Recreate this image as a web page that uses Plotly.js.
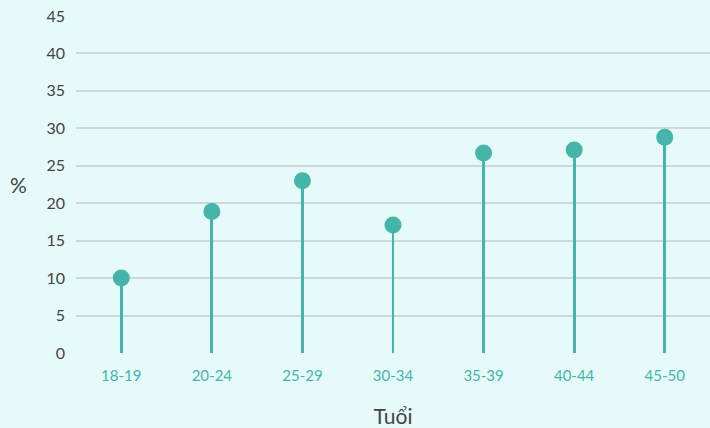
<!DOCTYPE html>
<html>
<head>
<meta charset="utf-8">
<script src="https://cdn.plot.ly/plotly-3.0.1.min.js"></script>
<style>
html,body{margin:0;padding:0;background:#e6fafa;}
#chart{width:710px;height:428px;}
</style>
</head>
<body>
<div id="chart"></div>
<script>
const categories = ["18-19","20-24","25-29","30-34","35-39","40-44","45-50"];
const values = [10, 18.9, 23, 17.1, 26.7, 27.1, 28.8];
const yTicks = [0,5,10,15,20,25,30,35,40,45];

const teal = "#45b5aa";

const stems = {
  type: "bar",
  x: categories,
  y: values,
  width: 0.033,
  marker: {color: teal, line: {width: 0}},
  hoverinfo: "skip",
  showlegend: false
};
const dots = {
  type: "scatter",
  mode: "markers",
  x: categories,
  y: values,
  marker: {color: teal, size: 17},
  showlegend: false
};

const layout = {
  width: 710,
  height: 428,
  margin: {l: 76, r: 0, t: 16, b: 75},
  paper_bgcolor: "#e6fafa",
  plot_bgcolor: "#e6fafa",
  font: {family: "Lato, 'Open Sans', sans-serif", color: "#444"},
  xaxis: {
    type: "category",
    showgrid: false,
    zeroline: false,
    showline: false,
    ticks: "",
    ticklabelstandoff: 12,
    tickfont: {size: 15, color: teal},
    title: {text: "Tuổi", font: {size: 21, color: "#444"}, standoff: 28}
  },
  yaxis: {
    range: [0, 45],
    tickvals: yTicks,
    showgrid: true,
    gridcolor: "#cdd8d8",
    gridwidth: 2,
    zeroline: false,
    showline: false,
    ticks: "",
    ticklabelstandoff: 10,
    tickfont: {size: 16, color: "#444"},
    title: {text: ""}
  },
  annotations: [{
    text: "%",
    xref: "paper", yref: "paper",
    x: -0.09, y: 0.5,
    xanchor: "center", yanchor: "middle",
    showarrow: false,
    font: {size: 21, color: "#444"}
  }],
  bargap: 0
};

Plotly.newPlot("chart", [stems, dots], layout, {displayModeBar: false});
</script>
</body>
</html>
